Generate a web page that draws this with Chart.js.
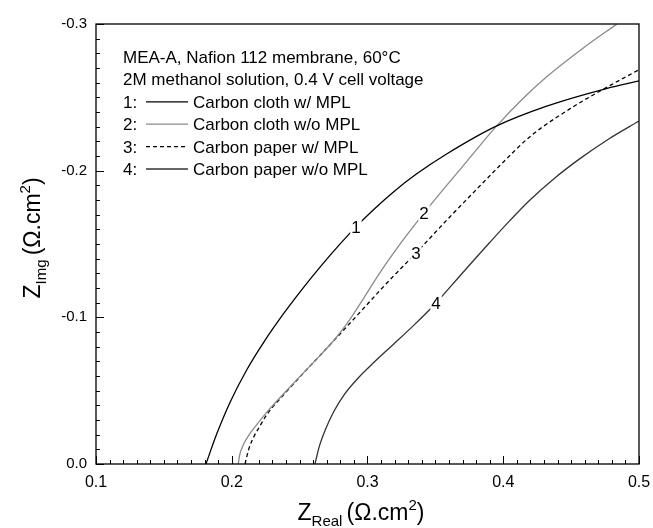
<!DOCTYPE html>
<html>
<head>
<meta charset="utf-8">
<script src="https://cdn.jsdelivr.net/npm/chart.js@4.4.1/dist/chart.umd.min.js"></script>
<style>
  html, body { margin: 0; padding: 0; background: #fff; }
  canvas { display: block; }
</style>
</head>
<body>
<canvas id="chart" width="653" height="528"></canvas>
<script>
// Nyquist plots of the four diffusion layers (Z_real vs Z_img, ohm.cm2)
const seriesNames = ['Carbon cloth w/ MPL', 'Carbon cloth w/o MPL', 'Carbon paper w/ MPL', 'Carbon paper w/o MPL'];
const headerLines = ['MEA-A, Nafion 112 membrane, 60°C', '2M methanol solution, 0.4 V cell voltage'];

const clothMplX = [0.181, 0.1889, 0.1987, 0.211, 0.224, 0.2375, 0.2515, 0.2655, 0.2795, 0.2915, 0.305, 0.320, 0.336, 0.358, 0.3952, 0.432, 0.476, 0.5];
const clothMplY = [0, -0.0204, -0.042, -0.0641, -0.0836, -0.1016, -0.1187, -0.1347, -0.1497, -0.1617, -0.1739, -0.1862, -0.1977, -0.2112, -0.2305, -0.2440, -0.2560, -0.2612];

const clothNoMplX = [0.2048, 0.2058, 0.2082, 0.2125, 0.219, 0.2257, 0.2429, 0.2625, 0.2745, 0.2851, 0.2975, 0.3092, 0.323, 0.3362, 0.3416, 0.3534, 0.37, 0.3952, 0.414, 0.432, 0.458, 0.4836];
const clothNoMplY = [0, -0.006, -0.0125, -0.0195, -0.0275, -0.0352, -0.0525, -0.0715, -0.0835, -0.096, -0.1135, -0.1305, -0.1487, -0.1648, -0.1712, -0.1845, -0.2028, -0.2305, -0.2487, -0.264, -0.283, -0.2999];

const paperMplX = [0.2098, 0.2125, 0.2165, 0.2215, 0.2257, 0.24, 0.2503, 0.265, 0.2883, 0.3141, 0.3357, 0.3608, 0.3743, 0.397, 0.4197, 0.4516, 0.4762, 0.4995];
const paperMplY = [0, -0.010, -0.019, -0.027, -0.0335, -0.049, -0.0595, -0.074, -0.0972, -0.1232, -0.1439, -0.1686, -0.1815, -0.203, -0.2232, -0.2436, -0.2568, -0.2686];

const paperNoMplX = [0.2613, 0.2645, 0.269, 0.275, 0.283, 0.293, 0.305, 0.319, 0.334, 0.3505, 0.3608, 0.375, 0.39, 0.405, 0.4197, 0.438, 0.4565, 0.478, 0.5];
const paperNoMplY = [0, -0.012, -0.0235, -0.0355, -0.0475, -0.0585, -0.0695, -0.0815, -0.0945, -0.1098, -0.1206, -0.1355, -0.151, -0.1661, -0.180, -0.195, -0.2082, -0.2218, -0.2338];

// which point of each curve carries its number
const curveLabelIndex = [9, 14, 10, 9];

const xs = [clothMplX, clothNoMplX, paperMplX, paperNoMplX];
const ys = [clothMplY, clothNoMplY, paperMplY, paperNoMplY];
const colors = ['#000000', '#8a8a8a', '#000000', '#333333'];
const dashes = [[], [], [4, 3], []];

const FONT = '"Liberation Sans", Arial, sans-serif';

const datasets = seriesNames.map((name, i) => ({
    label: name,
    data: xs[i].map((x, j) => ({ x: x, y: ys[i][j] })),
    borderColor: colors[i],
    borderWidth: 1.3,
    borderDash: dashes[i],
    pointRadius: 0,
    showLine: true,
    fill: false,
    cubicInterpolationMode: 'monotone',
}));

// frame plus inward major/minor ticks on bottom and left axes
const framePlugin = {
    id: 'frame',
    afterDraw(chart) {
        const { ctx, chartArea: a, scales } = chart;
        ctx.save();
        ctx.strokeStyle = '#000';
        ctx.lineWidth = 1.3;
        ctx.strokeRect(a.left, a.top, a.right - a.left, a.bottom - a.top);
        ctx.lineWidth = 1;
        ctx.beginPath();
        for (let i = 10; i <= 50; i++) {
            const px = Math.round(scales.x.getPixelForValue(i / 100)) + 0.5;
            const len = i % 10 === 0 ? 8 : 4;
            ctx.moveTo(px, a.bottom);
            ctx.lineTo(px, a.bottom - len);
        }
        for (let i = 0; i <= 30; i++) {
            const py = Math.round(scales.y.getPixelForValue(-i / 100)) + 0.5;
            const len = i % 10 === 0 ? 8 : 4;
            ctx.moveTo(a.left, py);
            ctx.lineTo(a.left + len, py);
        }
        ctx.stroke();
        ctx.restore();
    }
};

// numbers written on each curve
const curveNumberPlugin = {
    id: 'curveNumbers',
    afterDatasetsDraw(chart) {
        const ctx = chart.ctx;
        ctx.save();
        ctx.font = '17px ' + FONT;
        ctx.textAlign = 'center';
        ctx.textBaseline = 'middle';
        chart.data.datasets.forEach((ds, i) => {
            const pt = chart.getDatasetMeta(i).data[curveLabelIndex[i]];
            const txt = String(i + 1);
            const w = ctx.measureText(txt).width + 2;
            ctx.fillStyle = '#fff';
            ctx.fillRect(pt.x - w / 2, pt.y - 8, w, 16);
            ctx.fillStyle = '#000';
            ctx.fillText(txt, pt.x, pt.y + 1);
        });
        ctx.restore();
    }
};

// header text and line-style key in the upper left
const keyPlugin = {
    id: 'key',
    afterDraw(chart) {
        const ctx = chart.ctx;
        const x0 = 123, y0 = 63, step = 22.4;
        ctx.save();
        ctx.font = '17px ' + FONT;
        ctx.fillStyle = '#000';
        ctx.textBaseline = 'alphabetic';
        headerLines.forEach((t, k) => ctx.fillText(t, x0, y0 + k * step));
        chart.data.datasets.forEach((ds, i) => {
            const y = y0 + (i + 2) * step;
            ctx.fillStyle = '#000';
            ctx.fillText((i + 1) + ':', x0, y);
            ctx.beginPath();
            ctx.strokeStyle = ds.borderColor;
            ctx.lineWidth = 1.3;
            ctx.setLineDash(ds.borderDash);
            ctx.moveTo(146, y - 6);
            ctx.lineTo(188, y - 6);
            ctx.stroke();
            ctx.setLineDash([]);
            ctx.fillText(ds.label, 193, y);
        });
        ctx.restore();
    }
};

// axis titles with sub/superscripts
function drawRich(ctx, parts) {
    let w = 0;
    parts.forEach(p => { ctx.font = p.size + 'px ' + FONT; w += ctx.measureText(p.t).width; });
    let x = -w / 2;
    parts.forEach(p => {
        ctx.font = p.size + 'px ' + FONT;
        ctx.fillText(p.t, x, p.dy);
        x += ctx.measureText(p.t).width;
    });
}

const titlePlugin = {
    id: 'titles',
    afterDraw(chart) {
        const ctx = chart.ctx;
        ctx.save();
        ctx.fillStyle = '#000';
        ctx.textBaseline = 'alphabetic';
        ctx.translate(361, 520);
        drawRich(ctx, [
            { t: 'Z', size: 23, dy: 0 },
            { t: 'Real ', size: 15, dy: 6 },
            { t: '(Ω.cm', size: 23, dy: 0 },
            { t: '2', size: 15, dy: -10 },
            { t: ')', size: 23, dy: 0 },
        ]);
        ctx.restore();
        ctx.save();
        ctx.fillStyle = '#000';
        ctx.translate(40, 238);
        ctx.rotate(-Math.PI / 2);
        drawRich(ctx, [
            { t: 'Z', size: 23, dy: 0 },
            { t: 'Img ', size: 15, dy: 6 },
            { t: '(Ω.cm', size: 23, dy: 0 },
            { t: '2', size: 15, dy: -10 },
            { t: ')', size: 23, dy: 0 },
        ]);
        ctx.restore();
    }
};

new Chart(document.getElementById('chart'), {
    type: 'scatter',
    data: { datasets: datasets },
    options: {
        responsive: false,
        animation: false,
        layout: { padding: { top: 24, right: 14, left: 0, bottom: 0 } },
        plugins: { legend: { display: false }, tooltip: { enabled: false } },
        scales: {
            x: {
                type: 'linear',
                min: 0.1,
                max: 0.5,
                grid: { display: false, drawTicks: false },
                border: { display: false },
                ticks: {
                    stepSize: 0.1,
                    padding: 9,
                    color: '#000',
                    font: { family: FONT, size: 16 },
                    callback: v => Number(v).toFixed(1),
                },
                afterFit: s => { s.height = 64; s.paddingLeft = 0; s.paddingRight = 0; },
            },
            y: {
                type: 'linear',
                min: -0.3,
                max: 0,
                reverse: true,
                grid: { display: false, drawTicks: false },
                border: { display: false },
                ticks: {
                    stepSize: 0.1,
                    padding: 9,
                    color: '#000',
                    font: { family: FONT, size: 15 },
                    callback: v => Number(v).toFixed(1),
                },
                afterFit: s => { s.width = 96; s.paddingTop = 0; s.paddingBottom = 0; },
            },
        },
    },
    plugins: [framePlugin, curveNumberPlugin, keyPlugin, titlePlugin],
});
</script>
</body>
</html>
